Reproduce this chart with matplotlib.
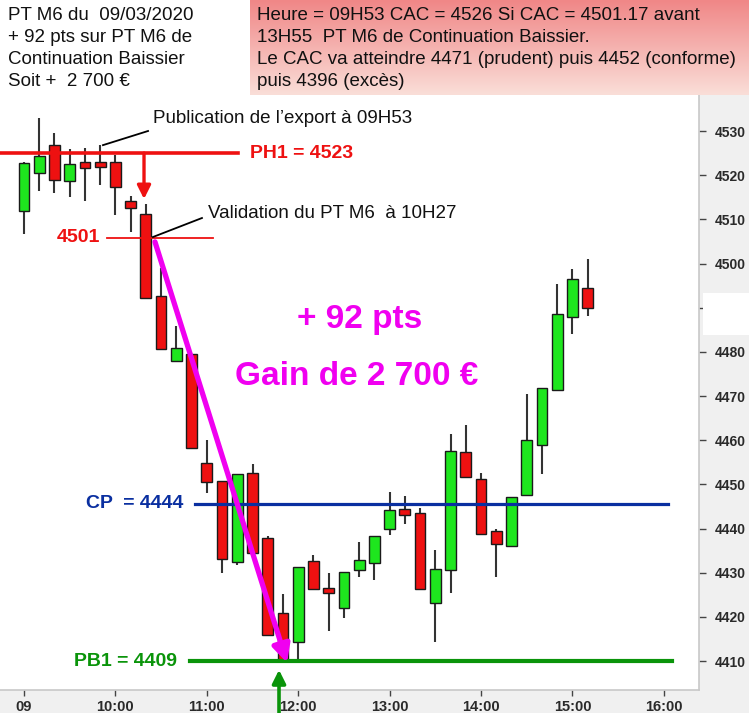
import matplotlib
matplotlib.use("Agg")
import matplotlib.pyplot as plt
import numpy as np
from matplotlib.patches import Rectangle

plt.rcParams['font.family'] = ['Liberation Sans', 'DejaVu Sans']

# ---------------- data ----------------
times = ["09:00", "09:10", "09:20", "09:30", "09:40", "09:50", "10:00", "10:10",
         "10:20", "10:30", "10:40", "10:50", "11:00", "11:10", "11:20", "11:30",
         "11:40", "11:50", "12:00", "12:10", "12:20", "12:30", "12:40", "12:50",
         "13:00", "13:10", "13:20", "13:30", "13:40", "13:50", "14:00", "14:10",
         "14:20", "14:30", "14:40", "14:50", "15:00", "15:10"]
opens = [4512.0, 4520.4, 4526.8, 4518.6, 4523.0, 4523.0, 4523.0, 4514.2,
         4511.2, 4492.7, 4478.0, 4479.5, 4454.8, 4450.8, 4432.4, 4452.6,
         4437.8, 4420.8, 4414.2, 4432.6, 4426.6, 4422.1, 4430.6, 4432.1,
         4439.8, 4444.5, 4443.5, 4423.1, 4430.6, 4457.3, 4451.2, 4439.4,
         4436.0, 4447.6, 4458.8, 4471.4, 4487.9, 4494.5]
highs = [4523.0, 4532.9, 4529.5, 4525.9, 4526.1, 4526.8, 4524.5, 4515.3,
         4513.5, 4498.9, 4485.9, 4479.5, 4460.0, 4450.8, 4452.3, 4454.6,
         4438.2, 4425.2, 4431.4, 4434.0, 4430.0, 4430.1, 4437.0, 4438.2,
         4448.3, 4447.4, 4444.6, 4435.1, 4461.3, 4463.4, 4452.6, 4440.0,
         4447.1, 4470.5, 4471.9, 4495.3, 4498.7, 4501.0]
lows = [4506.6, 4516.5, 4515.9, 4515.0, 4514.2, 4517.8, 4511.0, 4507.2,
        4492.1, 4480.6, 4478.0, 4458.2, 4448.0, 4430.0, 4431.7, 4434.4,
        4415.8, 4409.5, 4410.2, 4426.4, 4416.9, 4419.7, 4429.1, 4428.3,
        4438.5, 4441.0, 4426.3, 4414.3, 4425.4, 4451.7, 4438.7, 4429.1,
        4436.0, 4447.6, 4452.3, 4471.4, 4484.0, 4488.1]
closes = [4522.7, 4524.3, 4518.8, 4522.5, 4521.6, 4521.8, 4517.3, 4512.5,
          4492.1, 4480.6, 4480.8, 4458.2, 4450.5, 4433.2, 4452.3, 4434.4,
          4415.8, 4410.3, 4431.4, 4426.4, 4425.4, 4430.1, 4432.9, 4438.2,
          4444.2, 4443.0, 4426.3, 4430.8, 4457.6, 4451.7, 4438.7, 4436.6,
          4447.1, 4460.0, 4471.9, 4488.6, 4496.5, 4489.9]

yticks = [4410, 4420, 4430, 4440, 4450, 4460, 4470, 4480, 4490, 4500, 4510, 4520, 4530]
xticks = [9, 10, 11, 12, 13, 14, 15, 16]
xticklabels = ["09", "10:00", "11:00", "12:00", "13:00", "14:00", "15:00", "16:00"]

# levels
ph1 = 4525.0
lvl_4501 = 4505.8
cp = 4445.6
pb1 = 4410.0

# ---------------- figure ----------------
W, H = 749, 713
fig = plt.figure(figsize=(W / 100, H / 100), dpi=100, facecolor='#f0f0f0')
ax = fig.add_axes([0, (H - 690) / H, 699 / W, 690 / H])
ax.set_facecolor('white')
ax.set_xlim(8.7374, 16.385)
ax.set_ylim(4403.44, 4559.66)

x = np.array([int(t[:2]) + int(t[3:]) / 60 for t in times])
o = np.array(opens); c = np.array(closes)
hi = np.array(highs); lo = np.array(lows)
up = c >= o
green = '#1EE61E'
red = '#EE1111'

ax.vlines(x, lo, hi, color='#333333', lw=1.5, zorder=2)
ax.bar(x, np.abs(c - o), bottom=np.minimum(o, c), width=0.118,
       color=np.where(up, green, red), edgecolor='#1a1a1a', linewidth=1.0, zorder=3)

# axes styling
for s in ['left', 'top']:
    ax.spines[s].set_visible(False)
for s in ['right', 'bottom']:
    ax.spines[s].set_color('#c8c8c8')
    ax.spines[s].set_linewidth(1.2)
ax.yaxis.tick_right()
ax.set_yticks(yticks)
ax.set_yticklabels([str(v) for v in yticks])
ax.set_xticks(xticks)
ax.set_xticklabels(xticklabels)
ax.tick_params(axis='y', direction='out', length=5, width=1, color='#444444',
               pad=6, labelsize=10, labelcolor='#2a2a2a')
ax.tick_params(axis='x', direction='out', length=4, width=1, color='#444444',
               pad=3, labelsize=10.5, labelcolor='#2a2a2a')
for lab in ax.get_yticklabels() + ax.get_xticklabels():
    lab.set_fontweight('bold')

FS = 13.5
BFS = 14
# ---------------- annotations ----------------
# PH1
ax.plot([8.7374, 11.34], [ph1, ph1], color='#EE1111', lw=2.6, zorder=4)
ax.text(11.47, ph1, "PH1 = 4523", color='#EE1111', fontsize=BFS, fontweight='bold',
        va='center', ha='left')
# red arrow down
ax.annotate("", xy=(10.313, 4514.6), xytext=(10.313, 4525.0),
            arrowprops=dict(arrowstyle='-|>', color='#EE1111', lw=2.4,
                            mutation_scale=20, shrinkA=0, shrinkB=0), zorder=5)
# 4501 line
ax.plot([9.908, 11.068], [lvl_4501, lvl_4501], color='#EE1111', lw=1.3, zorder=4)
ax.text(9.83, lvl_4501, "4501", color='#EE1111', fontsize=BFS, fontweight='bold',
        va='center', ha='right')
# Publication
ax.plot([9.864, 10.357], [4526.8, 4530.0], color='black', lw=1.3, zorder=5)
ax.text(10.41, 4532.9, "Publication de l\u2019export à 09H53", fontsize=FS,
        va='center', ha='left', color='#111111')
# Validation
ax.plot([10.411, 10.947], [4506.0, 4510.3], color='black', lw=1.3, zorder=5)
ax.text(11.013, 4511.4, "Validation du PT M6  à 10H27", fontsize=FS,
        va='center', ha='left', color='#111111')
# magenta arrow
ax.annotate("", xy=(11.878, 4409.6), xytext=(10.433, 4504.9),
            arrowprops=dict(arrowstyle='-|>', color='#F000F0', lw=3.8,
                            mutation_scale=26, shrinkA=0, shrinkB=0), zorder=6)
ax.text(12.676, 4487.4, "+ 92 pts", color='#F000F0', fontsize=24, fontweight='bold',
        ha='center', va='center')
ax.text(12.643, 4474.5, "Gain de 2 700 €", color='#F000F0', fontsize=24,
        fontweight='bold', ha='center', va='center')
# CP
ax.plot([10.871, 16.046], [cp, cp], color='#0A2FA0', lw=2.3, zorder=4)
ax.text(10.74, cp, "CP  = 4444", color='#0A2FA0', fontsize=BFS, fontweight='bold',
        va='center', ha='right')
# PB1
ax.plot([10.816, 16.09], [pb1, pb1], color='#0A940A', lw=3.0, zorder=4)
ax.text(10.674, pb1, "PB1 = 4409", color='#0A940A', fontsize=BFS, fontweight='bold',
        va='center', ha='right')
# green arrow up
ax.annotate("", xy=(11.79, 4408.0), xytext=(11.79, 4398.0),
            arrowprops=dict(arrowstyle='-|>', color='#0A940A', lw=2.6,
                            mutation_scale=20, shrinkA=0, shrinkB=0),
            annotation_clip=False, zorder=7)

# ---------------- top boxes ----------------
fig.patches.append(Rectangle((0, 1 - 97 / H), 205 / W, 97 / H, transform=fig.transFigure,
                             facecolor='white', edgecolor='none', zorder=10))
left_lines = ["PT M6 du  09/03/2020", "+ 92 pts sur PT M6 de",
              "Continuation Baissier", "Soit +  2 700 €"]
for k, t in enumerate(left_lines):
    fig.text(8 / W, 1 - (16 + 22 * k) / H, t, fontsize=FS, va='center', ha='left',
             color='#111111', zorder=11)

bax = fig.add_axes([250 / W, 1 - 95 / H, 499 / W, 95 / H], zorder=12)
top = np.array([240, 135, 135]) / 255
bot = np.array([250, 222, 216]) / 255
g = np.linspace(0, 1, 100)[:, None]
grad = top[None, :] * (1 - g) + bot[None, :] * g
bax.imshow(grad[:, None, :], aspect='auto', extent=[0, 1, 0, 1], origin='upper')
bax.set_xlim(0, 1); bax.set_ylim(0, 1)
bax.axis('off')
right_lines = ["Heure = 09H53 CAC = 4526 Si CAC = 4501.17 avant",
               "13H55  PT M6 de Continuation Baissier.",
               "Le CAC va atteindre 4471 (prudent) puis 4452 (conforme)",
               "puis 4396 (excès)"]
for k, t in enumerate(right_lines):
    fig.text(257 / W, 1 - (16 + 22 * k) / H, t, fontsize=FS, va='center', ha='left',
             color='#111111', zorder=13)

# white patch over the 4490 label (as in reference)
fig.patches.append(Rectangle((703 / W, 1 - 335 / H), 46 / W, 42 / H,
                             transform=fig.transFigure, facecolor='white',
                             edgecolor='none', zorder=20))

fig.savefig("out.png", dpi=100, facecolor=fig.get_facecolor())
